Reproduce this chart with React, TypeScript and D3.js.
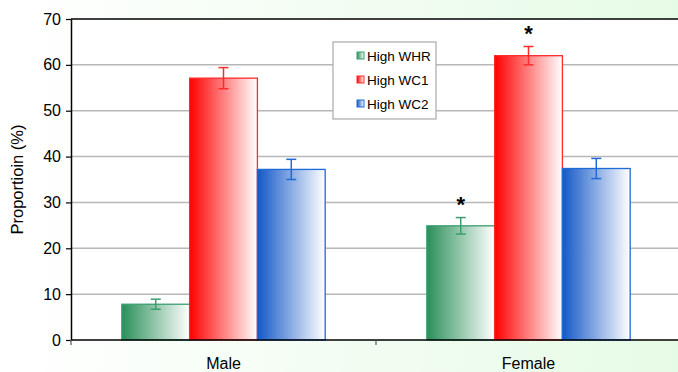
import React, { useEffect, useRef } from 'react';
import * as d3 from 'd3';

const categories = ['Male', 'Female'];
const seriesNames = ['High WHR', 'High WC1', 'High WC2'];
const whrValues = [7.8, 24.9];
const whrErrors = [1.1, 1.8];
const wc1Values = [57.1, 62.0];
const wc1Errors = [2.3, 2.0];
const wc2Values = [37.2, 37.4];
const wc2Errors = [2.2, 2.2];
// which bars got a "*" over them
const starred = [
  [false, false, false],
  [true, true, false],
];
const yTicks = [0, 10, 20, 30, 40, 50, 60, 70];

const colors = ['#2a8f5a', '#ff0000', '#1458c8'];
const edgeColors = ['#3a9e6e', '#ff2a2a', '#1e6ad6'];

function App() {
  const svgRef = useRef<SVGSVGElement>(null);

  useEffect(() => {
    document.body.style.margin = '0';
    const width = 678;
    const height = 372;
    const margin = { top: 19, right: -3, bottom: 32, left: 71 };
    const innerW = width - margin.left - margin.right;
    const innerH = height - margin.top - margin.bottom;

    const svg = d3.select(svgRef.current)
      .attr('width', width)
      .attr('height', height)
      .style('display', 'block')
      .style('font-family', 'Liberation Sans, Arial, sans-serif');
    svg.selectAll('*').remove();

    const defs = svg.append('defs');
    const bg = defs.append('linearGradient').attr('id', 'bg')
      .attr('x1', '0%').attr('x2', '100%').attr('y1', '0%').attr('y2', '0%');
    bg.append('stop').attr('offset', '0%').attr('stop-color', '#ffffff');
    bg.append('stop').attr('offset', '100%').attr('stop-color', '#e6fbe6');

    colors.forEach((c, i) => {
      const g = defs.append('linearGradient').attr('id', 'bar' + i)
        .attr('x1', '0%').attr('x2', '100%').attr('y1', '0%').attr('y2', '0%');
      g.append('stop').attr('offset', '0%').attr('stop-color', c);
      g.append('stop').attr('offset', '100%').attr('stop-color', '#ffffff');
    });

    svg.append('rect').attr('width', width).attr('height', height).attr('fill', 'url(#bg)');

    const chart = svg.append('g').attr('transform', `translate(${margin.left},${margin.top})`);
    chart.append('rect').attr('width', innerW).attr('height', innerH).attr('fill', '#ffffff');

    const x0 = d3.scaleBand().domain(categories).range([0, innerW]);
    const x1 = d3.scaleBand().domain(seriesNames)
      .range([0, x0.bandwidth()]).paddingOuter(0.75);
    const y = d3.scaleLinear().domain([0, 70]).range([innerH, 0]);

    // gridlines
    chart.selectAll('.grid')
      .data(yTicks.filter(t => t > 0 && t < 70))
      .enter().append('line')
      .attr('x1', 0).attr('x2', innerW)
      .attr('y1', d => y(d)).attr('y2', d => y(d))
      .attr('stroke', '#b8b8b8').attr('stroke-width', 1.5);

    chart.append('line')
      .attr('x1', 0).attr('x2', innerW)
      .attr('y1', y(70)).attr('y2', y(70))
      .attr('stroke', '#000').attr('stroke-width', 1.5);

    const values = [whrValues, wc1Values, wc2Values];
    const errors = [whrErrors, wc1Errors, wc2Errors];

    categories.forEach((cat, ci) => {
      const grp = chart.append('g').attr('transform', `translate(${x0(cat)},0)`);
      seriesNames.forEach((s, si) => {
        const v = values[si][ci];
        const e = errors[si][ci];
        const bx = x1(s)!;
        const bw = x1.bandwidth();
        grp.append('rect')
          .attr('x', bx).attr('y', y(v))
          .attr('width', bw).attr('height', y(0) - y(v))
          .attr('fill', `url(#bar${si})`)
          .attr('stroke', edgeColors[si]).attr('stroke-width', 1.3);
        const cx = bx + bw / 2;
        grp.append('line')
          .attr('x1', cx).attr('x2', cx)
          .attr('y1', y(v + e)).attr('y2', y(v - e))
          .attr('stroke', edgeColors[si]).attr('stroke-width', 1.5);
        [v + e, v - e].forEach(t => {
          grp.append('line')
            .attr('x1', cx - 5).attr('x2', cx + 5)
            .attr('y1', y(t)).attr('y2', y(t))
            .attr('stroke', edgeColors[si]).attr('stroke-width', 1.5);
        });
        if (starred[ci][si]) {
          grp.append('text')
            .attr('x', cx).attr('y', y(v + e) - 6)
            .attr('text-anchor', 'middle')
            .attr('font-size', 22).attr('font-weight', 'bold')
            .text('*');
        }
      });
    });

    // y axis
    const yAxis = chart.append('g').call(
      d3.axisLeft(y).tickValues(yTicks).tickSize(5).tickSizeOuter(0)
    );
    yAxis.select('.domain').attr('stroke', '#000').attr('stroke-width', 1.5);
    yAxis.selectAll('.tick line').attr('stroke', '#000').attr('stroke-width', 1.2);
    yAxis.selectAll('.tick text')
      .attr('font-size', 16).attr('font-family', 'Liberation Sans, Arial, sans-serif')
      .attr('fill', '#000').attr('x', -10);

    // x axis
    const xAxis = chart.append('g').attr('transform', `translate(0,${innerH})`);
    xAxis.append('line').attr('x1', 0).attr('x2', innerW)
      .attr('stroke', '#000').attr('stroke-width', 1.5);
    xAxis.selectAll('.xt')
      .data(categories.map(c => x0(c)!))
      .enter().append('line')
      .attr('x1', d => d).attr('x2', d => d)
      .attr('y1', 0).attr('y2', 5)
      .attr('stroke', '#555').attr('stroke-width', 1.2);
    xAxis.selectAll('.xl')
      .data(categories)
      .enter().append('text')
      .attr('x', d => x0(d)! + x0.bandwidth() / 2)
      .attr('y', 29)
      .attr('text-anchor', 'middle')
      .attr('font-size', 16)
      .text(d => d);

    svg.append('text')
      .attr('transform', `translate(23,${margin.top + innerH / 2}) rotate(-90)`)
      .attr('text-anchor', 'middle')
      .attr('font-size', 16.5)
      .text('Proportioin (%)');

    // legend
    const legend = svg.append('g').attr('transform', 'translate(333,42)');
    legend.append('rect').attr('width', 103).attr('height', 77)
      .attr('fill', '#fff').attr('stroke', '#aaa').attr('stroke-width', 1.2);
    seriesNames.forEach((s, i) => {
      const row = legend.append('g').attr('transform', `translate(24,${14 + i * 24})`);
      row.append('rect').attr('x', 0).attr('y', -4).attr('width', 7).attr('height', 7)
        .attr('fill', `url(#bar${i})`).attr('stroke', edgeColors[i]).attr('stroke-width', 1);
      row.append('text').attr('x', 10).attr('y', 5)
        .attr('font-size', 13.5).text(s);
    });
  }, []);

  return <svg ref={svgRef}></svg>;
}

export default App;
